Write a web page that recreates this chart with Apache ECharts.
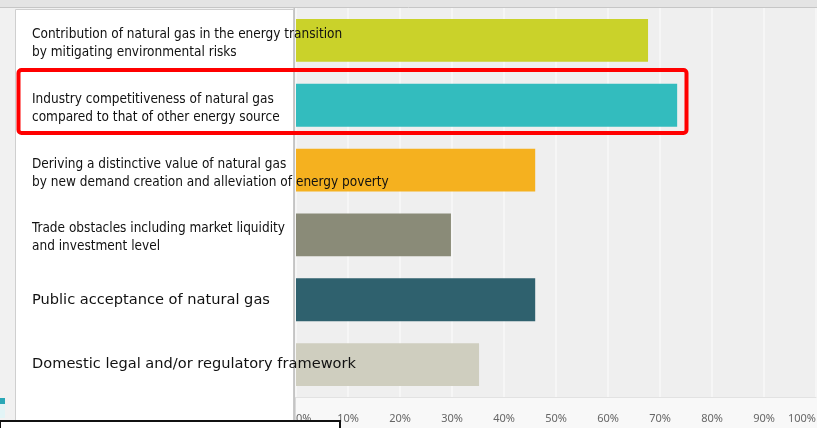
<!DOCTYPE html>
<html>
<head>
<meta charset="utf-8">
<script src="https://cdn.jsdelivr.net/npm/echarts@6/dist/echarts.min.js"></script>
<style>
html,body{margin:0;padding:0;background:#f1f1f1;}
#c{width:817px;height:428px;}
</style>
</head>
<body>
<div id="c"></div>
<script>
const categories = [
  "Contribution of natural gas in the energy transition\nby mitigating environmental risks",
  "Industry competitiveness of natural gas\ncompared to that of other energy source",
  "Deriving a distinctive value of natural gas\nby new demand creation and alleviation of energy poverty",
  "Trade obstacles including market liquidity\nand investment level",
  "Public acceptance of natural gas",
  "Domestic legal and/or regulatory framework"
];
const values = [67.7, 73.3, 46.0, 29.8, 46.0, 35.2];
const barColors = ["#cad22a", "#33bcbe", "#f5b11f", "#8a8b78", "#2f616e", "#cfcebf"];
const xTickLabels = ["0%","10%","20%","30%","40%","50%","60%","70%","80%","90%","100%"];

const narrowFont = "'Liberation Sans Narrow', 'DejaVu Sans Condensed', sans-serif";
const wideFont = "'DejaVu Sans', sans-serif";

const chart = echarts.init(document.getElementById('c'));
chart.setOption({
  animation: false,
  grid: {left: 296, right: 1, top: 8, bottom: 31, containLabel: false, outerBoundsMode: 'none'},
  xAxis: {
    type: 'value', min: 0, max: 100, interval: 10,
    axisLine: {show: true, lineStyle: {color: '#e2e2e2'}},
    axisTick: {show: false},
    splitLine: {show: true, lineStyle: {color: '#f6f6f6', width: 2}},
    axisLabel: {
      color: '#666', fontSize: 11, fontFamily: "'Noto Sans', sans-serif", margin: 16,
      alignMinLabel: 'left', alignMaxLabel: 'right', hideOverlap: false,
      formatter: function (v) { return xTickLabels[Math.round(v / 10)]; }
    }
  },
  yAxis: {
    type: 'category', inverse: true, z: 10,
    data: categories,
    axisLine: {show: false}, axisTick: {show: false},
    axisLabel: {
      align: 'left', margin: 264, color: '#111', hideOverlap: false, interval: 0,
      formatter: function (v) {
        const lines = v.split('\n');
        if (lines.length > 1) {
          return '{s| }\n' + lines.map(function (l) { return '{n|' + l + '}'; }).join('\n');
        }
        return '{w|' + v + '}';
      },
      rich: {
        s: {fontSize: 4, lineHeight: 6},
        n: {fontFamily: narrowFont, fontSize: 13.5, lineHeight: 18, color: '#111', align: 'left'},
        w: {fontFamily: wideFont, fontSize: 14.6, lineHeight: 18, color: '#111', align: 'left'}
      }
    }
  },
  series: [{
    type: 'bar', barWidth: '66%',
    data: values.map(function (v, i) { return {value: v, itemStyle: {color: barColors[i]}}; })
  }],
  graphic: [
    {type: 'rect', z: -20, shape: {x: 0, y: 0, width: 817, height: 7}, style: {fill: '#e4e4e4'}},
    {type: 'line', z: -19, shape: {x1: 0, y1: 7.5, x2: 817, y2: 7.5}, style: {stroke: '#c6c6c6', lineWidth: 1}},
    {type: 'rect', z: -20, shape: {x: 296, y: 8, width: 521, height: 389}, style: {fill: '#efefef'}},
    {type: 'rect', z: -20, shape: {x: 296, y: 397, width: 521, height: 31}, style: {fill: '#f8f8f8'}},
    {type: 'rect', z: -20, shape: {x: 15.5, y: 9.5, width: 278, height: 430}, style: {fill: '#ffffff', stroke: '#cfcfcf', lineWidth: 1}},
    {type: 'line', z: -19, shape: {x1: 294.5, y1: 8, x2: 294.5, y2: 428}, style: {stroke: '#c4c4c4', lineWidth: 2}},
    {type: 'rect', z: -20, shape: {x: 0, y: 398, width: 5, height: 6}, style: {fill: '#2aa7b6'}},
    {type: 'rect', z: -20, shape: {x: 0, y: 404, width: 5, height: 14}, style: {fill: '#e2f4f6'}},
    {type: 'rect', z: 100, shape: {x: 18.5, y: 70, width: 668, height: 63, r: 3}, style: {fill: 'none', stroke: '#ff0000', lineWidth: 4}},
    {type: 'rect', z: 100, shape: {x: 0, y: 421, width: 340, height: 10}, style: {fill: '#ffffff', stroke: '#111', lineWidth: 2}}
  ]
});
</script>
</body>
</html>
